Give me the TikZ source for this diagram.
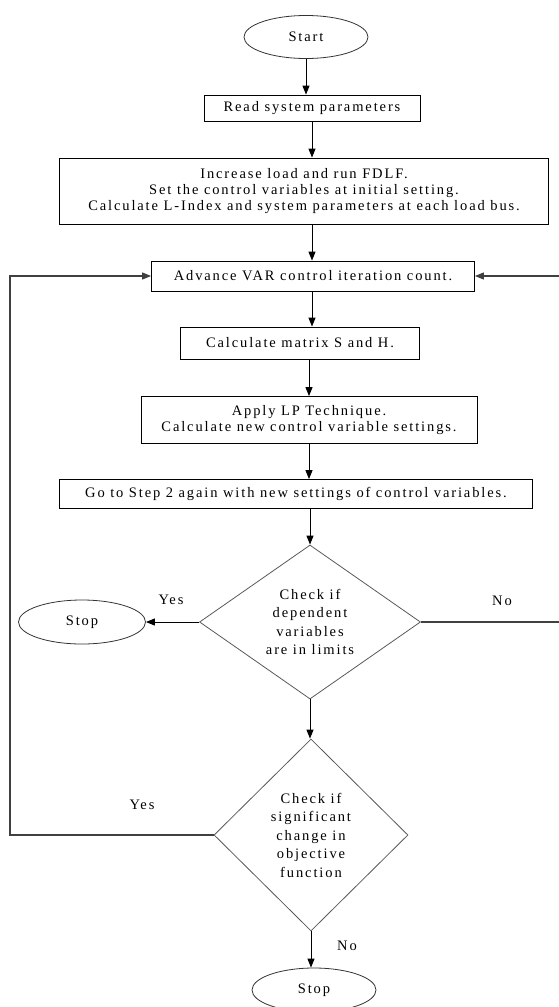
\documentclass[tikz,border=0pt]{standalone}
\usepackage{fontspec}
\setmainfont{Liberation Serif}[LetterSpace=13]
\usetikzlibrary{shapes.geometric,arrows.meta}
\tikzset{
    txt/.style={font=\fontsize{14.5}{16}\selectfont,align=center,inner sep=0pt},
    procbox/.style={txt,draw=black,line width=0.8pt,rectangle},
    termnode/.style={txt,draw=black!80,line width=0.8pt,ellipse},
    decnode/.style={font=\fontsize{14.5}{18.5}\selectfont,align=center,inner sep=0pt,
                    draw=black!65,line width=0.8pt,diamond},
    arr/.style={draw=black,line width=1pt,-{Triangle[length=9pt,width=7pt]}},
    loopline/.style={draw=black!75,line width=1.1pt,-{Triangle[length=9pt,width=7pt]}}
}

\begin{document}
\begin{tikzpicture}[x=1pt,y=-1pt]
  % Page frame (pixel grid of the reference)
  \useasboundingbox (0,0) rectangle (558,1007);

  % Terminal and process blocks
  \node[termnode,minimum width=124pt,minimum height=43pt] (start) at (306,37) {Start};
  \node[procbox,minimum width=216pt,minimum height=26pt] (read) at (312,108) {Read system parameters};
  \node[procbox,minimum width=489pt,minimum height=66pt] (incr) at (304,191)
    {Increase load and run FDLF.\\Set the control variables at initial setting.\\Calculate L-Index and system parameters at each load bus.};
  \node[procbox,minimum width=323pt,minimum height=30pt] (adv) at (313,276) {Advance VAR control iteration count.};
  \node[procbox,minimum width=239pt,minimum height=32pt] (calc) at (300,343) {Calculate matrix S and H.};
  \node[procbox,minimum width=336pt,minimum height=47pt] (lp) at (309,420)
    {Apply LP Technique.\\Calculate new control variable settings.};
  \node[procbox,minimum width=473pt,minimum height=29pt] (goto) at (296,494)
    {Go to Step 2 again with new settings of control variables.};

  % Decisions
  \node[decnode,minimum width=221pt,minimum height=154pt] (chk1) at (310,622)
    {Check if\\dependent\\variables\\are in limits};
  \node[decnode,minimum width=194pt,minimum height=192pt] (chk2) at (311,835)
    {Check if\\significant\\change in\\objective\\function};

  % End points
  \node[termnode,minimum width=127pt,minimum height=44pt] (stop1) at (82,622) {Stop};
  \node[termnode,minimum width=124pt,minimum height=44pt] (stop2) at (314,990) {Stop};

  % Loop-back corners
  \coordinate (lloop) at (10,0);
  \coordinate (rloop) at (560,0);

  % Main flow
  \draw[arr] (start.south) -- (start.south |- read.north);
  \draw[arr] (read.south) -- (read.south |- incr.north);
  \draw[arr] (read.south |- incr.south) -- (read.south |- adv.north);
  \draw[arr] (read.south |- adv.south) -- (read.south |- calc.north);
  \draw[arr] (lp.north |- calc.south) -- (lp.north);
  \draw[arr] (lp.south) -- (lp.south |- goto.north);
  \draw[arr] (chk1.north |- goto.south) -- (chk1.north);
  \draw[arr] (chk1.south) -- (chk1.south |- chk2.north);
  \draw[arr] (chk2.south) -- (chk2.south |- stop2.north);
  \draw[arr] (chk1.west) -- (stop1.east);

  % Loops back to the iteration count
  \draw[loopline] (chk1.east) -- (rloop |- chk1.east) -- (rloop |- adv.east) -- (adv.east);
  \draw[loopline] (chk2.west) -- (lloop |- chk2.west) -- (lloop |- adv.west) -- (adv.west);

  % Branch labels
  \node[txt] (yes1) at (171,600) {Yes};
  \node[txt] (no1) at (502,601) {No};
  \node[txt] (yes2) at (142,805) {Yes};
  \node[txt] (no2) at (347,946) {No};
\end{tikzpicture}
\end{document}
